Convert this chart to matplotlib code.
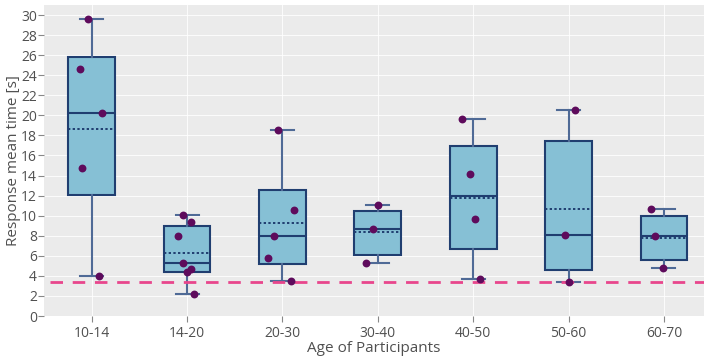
import matplotlib
matplotlib.use("Agg")
import matplotlib.pyplot as plt

# age groups and the per-group response times (seconds)
groups = ["10-14", "14-20", "20-30", "30-40", "40-50", "50-60", "60-70"]

points = [
    [29.58, 24.60, 20.27, 14.72, 3.99],
    [10.07, 9.40, 8.00, 5.25, 4.35, 4.65, 2.16],
    [18.58, 10.57, 7.94, 5.75, 3.49],
    [11.10, 8.67, 5.32],
    [19.64, 14.16, 9.70, 3.72],
    [20.54, 8.11, 3.36],
    [10.64, 7.98, 4.75],
]
# horizontal jitter of each point (category units)
jitter = [
    [-0.035, -0.126, 0.112, -0.098, 0.073],
    [-0.045, 0.039, -0.098, -0.042, -0.003, 0.042, 0.070],
    [-0.042, 0.126, -0.091, -0.147, 0.087],
    [0.000, -0.049, -0.126],
    [-0.119, -0.035, 0.021, 0.073],
    [0.066, -0.042, 0.000],
    [-0.136, -0.091, -0.010],
]

# box statistics as drawn
q1 = [12.06, 4.42, 5.15, 6.11, 6.71, 4.59, 5.55]
median = [20.27, 5.25, 7.94, 8.67, 11.93, 8.11, 7.98]
q3 = [25.80, 9.00, 12.56, 10.50, 16.92, 17.42, 9.97]
mean = [18.63, 6.27, 9.27, 8.36, 11.80, 10.67, 7.79]
whislo = [3.99, 2.16, 3.49, 5.32, 3.72, 3.36, 4.75]
whishi = [29.58, 10.07, 18.58, 11.10, 19.64, 20.54, 10.64]

threshold = 3.36

plt.rcParams["font.family"] = ["Open Sans", "DejaVu Sans"]

box_fill = "#86c0d5"
box_edge = "#203e70"
whisk_col = "#4f6a96"
dot_col = "#5e0b5c"
txt_col = "#505050"

fig = plt.figure(figsize=(7.04, 3.56), dpi=100)
ax = fig.add_axes([44 / 704, 1 - 316 / 356, 1 - 44 / 704, 311 / 356])
ax.set_facecolor("#ebebeb")

stats = []
for i, g in enumerate(groups):
    stats.append({
        "label": g, "q1": q1[i], "med": median[i], "q3": q3[i],
        "mean": mean[i], "whislo": whislo[i], "whishi": whishi[i],
        "fliers": [],
    })

pos = list(range(len(groups)))
ax.bxp(
    stats, positions=pos, widths=0.49, capwidths=0.24,
    showmeans=True, meanline=True, patch_artist=True, showfliers=False,
    boxprops=dict(facecolor=box_fill, edgecolor=box_edge, linewidth=1.5),
    medianprops=dict(color=box_edge, linewidth=1.5),
    meanprops=dict(color=box_edge, linewidth=1.4, linestyle=(0, (1.2, 1.2))),
    whiskerprops=dict(color=whisk_col, linewidth=1.5),
    capprops=dict(color=whisk_col, linewidth=1.5),
    zorder=3,
)

for i, vals in enumerate(points):
    xs = [i + dx for dx in jitter[i]]
    ax.scatter(xs, vals, s=32, color=dot_col, zorder=5, linewidths=0)

ax.hlines(threshold, -0.44, 7, colors="#e8468c", linewidth=2,
          linestyles=(0, (4.5, 3.5)), zorder=4)

ax.set_xlim(-0.5, 6.42)
ax.set_ylim(0, 31)
ax.set_yticks(range(0, 31, 2))
ax.set_xticks(pos)
ax.set_xticklabels(groups)
ax.grid(True, color="white", linewidth=0.6, zorder=0)
ax.set_axisbelow(True)
for s in ax.spines.values():
    s.set_visible(False)
ax.tick_params(colors="#888888", labelsize=10, length=4, width=0.8,
               labelcolor=txt_col)
ax.tick_params(axis="x", pad=3)
ax.tick_params(axis="y", pad=1)

ax.set_xlabel("Age of Participants", fontsize=11, color=txt_col, labelpad=0)
ax.set_ylabel("Response mean time [s]", fontsize=11, color=txt_col, labelpad=0)

fig.savefig("out.png", dpi=100)
